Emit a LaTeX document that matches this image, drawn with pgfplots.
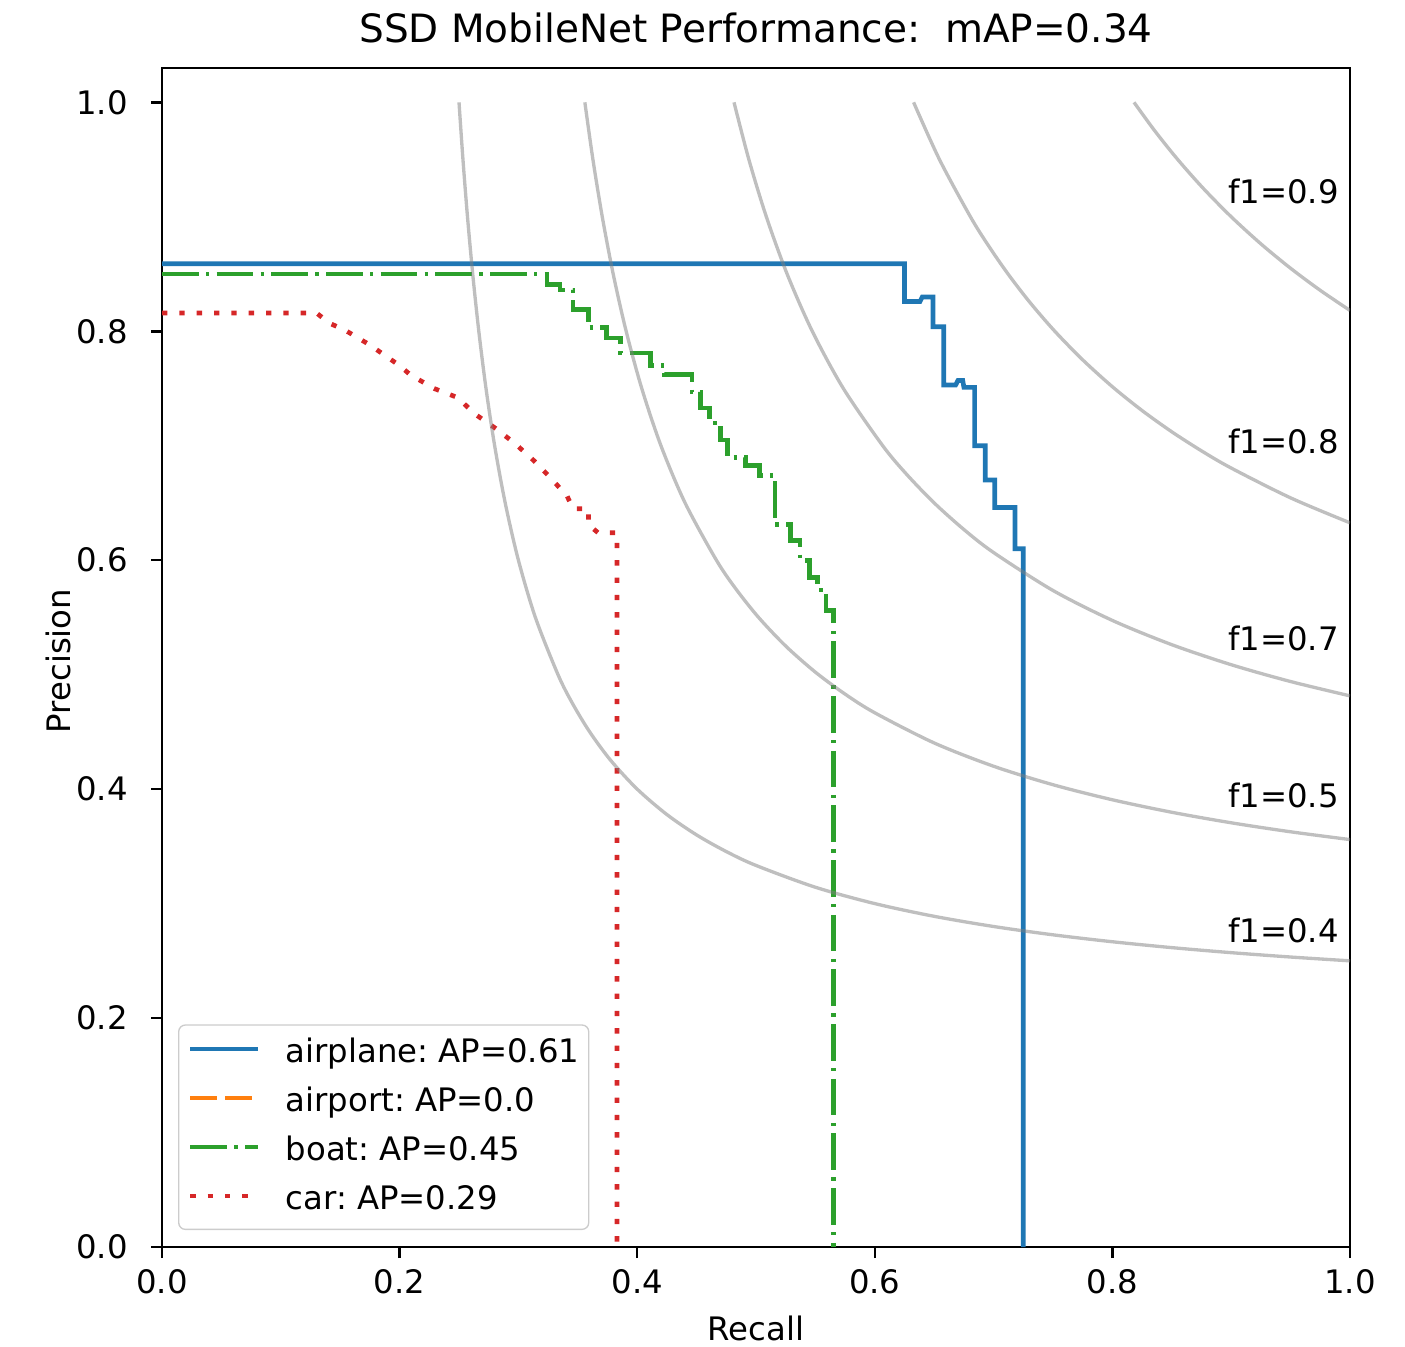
\documentclass[border=0pt]{standalone}
\usepackage{fontspec}
\setmainfont{DejaVu Sans}
\usepackage{pgfplots}
\pgfplotsset{compat=1.18}
\definecolor{tabblue}{HTML}{1F77B4}
\definecolor{taborange}{HTML}{FF7F0E}
\definecolor{tabgreen}{HTML}{2CA02C}
\definecolor{tabred}{HTML}{D62728}
\newcommand{\smallfont}{\fontsize{9.7}{11.5}\selectfont\frenchspacing}
\begin{document}
\frenchspacing
\begin{tikzpicture}
\begin{axis}[
  scale only axis, width=356.4pt, height=353.7pt,
  xmin=0, xmax=1, ymin=0, ymax=1.03,
  xtick={0,0.2,0.4,0.6,0.8,1}, ytick={0,0.2,0.4,0.6,0.8,1},
  xtick pos=left, ytick pos=left,
  tick align=outside, major tick length=3.3pt,
  tick style={black, line width=0.75pt},
  axis line style={black, line width=0.75pt},
  /pgf/number format/fixed, /pgf/number format/fixed zerofill,
  /pgf/number format/precision=1, /pgf/number format/assume math mode=true,
  ticklabel style={font=\smallfont},
  xticklabel style={anchor=base, inner sep=0pt, yshift=-10.5pt},
  yticklabel style={anchor=east, inner sep=0pt, xshift=-6.8pt},
  title={SSD MobileNet Performance:\ \ mAP=0.34},
  every axis title/.style={at={(axis description cs:0.5,1.0212)}, anchor=base, inner sep=0pt, font=\fontsize{11.7}{14}\selectfont\frenchspacing},
  xlabel={Recall},
  xlabel style={at={(axis description cs:0.5,-0.0789)}, anchor=base, inner sep=0pt, font=\smallfont},
  ylabel={Precision},
  ylabel style={at={(axis description cs:-0.0774,0.497)}, anchor=base, inner sep=0pt, font=\smallfont},
  legend cell align=left,
  legend style={at={(axis description cs:0.0135,0.0144)}, anchor=south west,
    draw=black!20, rounded corners=2pt, fill=white,
    font=\smallfont, inner xsep=2.8pt, inner ysep=4.3pt,
    row sep=6.1pt, nodes={inner sep=0pt, text height=6.8pt, text depth=1.8pt},
    /tikz/every odd column/.append style={column sep=7.5pt}},
  legend image code/.code={\draw[#1] (0pt,1.4pt) -- (20.4pt,1.4pt);},
]
% PR curves
\addplot[tabblue, line width=1.4pt] coordinates {
(0,0.859) (0.625,0.859) (0.625,0.826) (0.638,0.826) (0.640,0.830) (0.649,0.830)
(0.649,0.804) (0.658,0.804) (0.658,0.753) (0.668,0.753) (0.670,0.757) (0.674,0.757)
(0.675,0.751) (0.684,0.751) (0.684,0.700) (0.693,0.700) (0.693,0.670) (0.701,0.670)
(0.701,0.646) (0.718,0.646) (0.718,0.610) (0.725,0.610) (0.725,0)};
\addlegendentry{airplane: AP=0.61}
\addlegendimage{taborange, line width=1.4pt, dash pattern=on 8.1pt off 2.4pt}
\addlegendentry{airport: AP=0.0}
\addplot[tabgreen, line width=1.4pt, dash pattern=on 11pt off 2.2pt on 1pt off 2.2pt] coordinates {
(0,0.850) (0.324,0.850) (0.324,0.841) (0.335,0.841) (0.335,0.836) (0.346,0.836)
(0.346,0.819) (0.359,0.819) (0.359,0.803) (0.374,0.803) (0.374,0.794) (0.386,0.794)
(0.386,0.781) (0.411,0.781) (0.411,0.770) (0.423,0.770) (0.423,0.762) (0.446,0.762)
(0.446,0.747) (0.453,0.747) (0.453,0.733) (0.461,0.733) (0.461,0.720) (0.470,0.720)
(0.470,0.705) (0.476,0.705) (0.476,0.690) (0.491,0.690) (0.491,0.683) (0.503,0.683)
(0.503,0.674) (0.516,0.674) (0.516,0.631) (0.529,0.631) (0.529,0.617) (0.537,0.617)
(0.537,0.600) (0.545,0.600) (0.545,0.585) (0.552,0.585) (0.552,0.574) (0.559,0.574)
(0.559,0.556) (0.565,0.556) (0.565,0)};
\addlegendentry{boat: AP=0.45}
\addplot[tabred, line width=1.4pt, dash pattern=on 1.6pt off 3.6pt] coordinates {
(0,0.816) (0.130,0.816) (0.141,0.807) (0.154,0.801) (0.175,0.788) (0.200,0.770)
(0.209,0.762) (0.229,0.750) (0.249,0.742) (0.263,0.728) (0.281,0.715) (0.297,0.702)
(0.313,0.687) (0.327,0.672) (0.341,0.656) (0.346,0.645) (0.359,0.645) (0.359,0.631)
(0.367,0.624) (0.383,0.624) (0.383,0)};
\addlegendentry{car: AP=0.29}
% iso-F1 curves
\addplot[gray, opacity=0.5, line width=1pt, smooth, forget plot] coordinates {
(0.25,1) (0.25333,0.95) (0.25714,0.9) (0.26154,0.85) (0.26667,0.8) (0.27273,0.75)
(0.28,0.7) (0.28889,0.65) (0.3,0.6) (0.31429,0.55) (0.33333,0.5) (0.34545,0.475)
(0.36,0.45) (0.37778,0.425) (0.4,0.4) (0.425,0.37778) (0.45,0.36) (0.475,0.34545)
(0.5,0.33333) (0.55,0.31429) (0.6,0.3) (0.65,0.28889) (0.7,0.28) (0.75,0.27273)
(0.8,0.26667) (0.85,0.26154) (0.9,0.25714) (0.95,0.25333) (1,0.25)};
\addplot[gray, opacity=0.5, line width=1pt, smooth, forget plot] coordinates {
(0.35593,1) (0.36273,0.95) (0.37059,0.9) (0.37979,0.85) (0.39070,0.8) (0.40385,0.75)
(0.42,0.7) (0.44032,0.65) (0.46667,0.6) (0.48300,0.575) (0.50217,0.55) (0.525,0.525)
(0.55,0.50217) (0.575,0.48300) (0.6,0.46667) (0.65,0.44032) (0.7,0.42) (0.75,0.40385)
(0.8,0.39070) (0.85,0.37979) (0.9,0.37059) (0.95,0.36273) (1,0.35593)};
\addplot[gray, opacity=0.5, line width=1pt, smooth, forget plot] coordinates {
(0.48148,1) (0.494,0.95) (0.50870,0.9) (0.52619,0.85) (0.54737,0.8) (0.57353,0.75)
(0.60667,0.7) (0.62679,0.675) (0.65,0.65) (0.675,0.62679) (0.7,0.60667) (0.75,0.57353)
(0.8,0.54737) (0.85,0.52619) (0.9,0.50870) (0.95,0.494) (1,0.48148)};
\addplot[gray, opacity=0.5, line width=1pt, smooth, forget plot] coordinates {
(0.63265,1) (0.65444,0.95) (0.68049,0.9) (0.69551,0.875) (0.71216,0.85) (0.73071,0.825)
(0.75152,0.8) (0.775,0.775) (0.8,0.75152) (0.825,0.73071) (0.85,0.71216) (0.875,0.69551)
(0.9,0.68049) (0.95,0.65444) (1,0.63265)};
\addplot[gray, opacity=0.5, line width=1pt, smooth, forget plot] coordinates {
(0.81818,1) (0.83571,0.975) (0.855,0.95) (0.87632,0.925) (0.9,0.9) (0.925,0.87632)
(0.95,0.855) (0.975,0.83571) (1,0.81818)};
\node[anchor=base west, inner sep=0pt, font=\smallfont] at (axis cs:0.897,0.912) {f1=0.9};
\node[anchor=base west, inner sep=0pt, font=\smallfont] at (axis cs:0.897,0.693) {f1=0.8};
\node[anchor=base west, inner sep=0pt, font=\smallfont] at (axis cs:0.897,0.521) {f1=0.7};
\node[anchor=base west, inner sep=0pt, font=\smallfont] at (axis cs:0.897,0.384) {f1=0.5};
\node[anchor=base west, inner sep=0pt, font=\smallfont] at (axis cs:0.897,0.266) {f1=0.4};
\end{axis}
\pgfresetboundingbox
\path ([xshift=-48.6pt,yshift=-29.7pt]current axis.south west) rectangle ([xshift=16.5pt,yshift=20.4pt]current axis.north east);
\end{tikzpicture}
\end{document}
